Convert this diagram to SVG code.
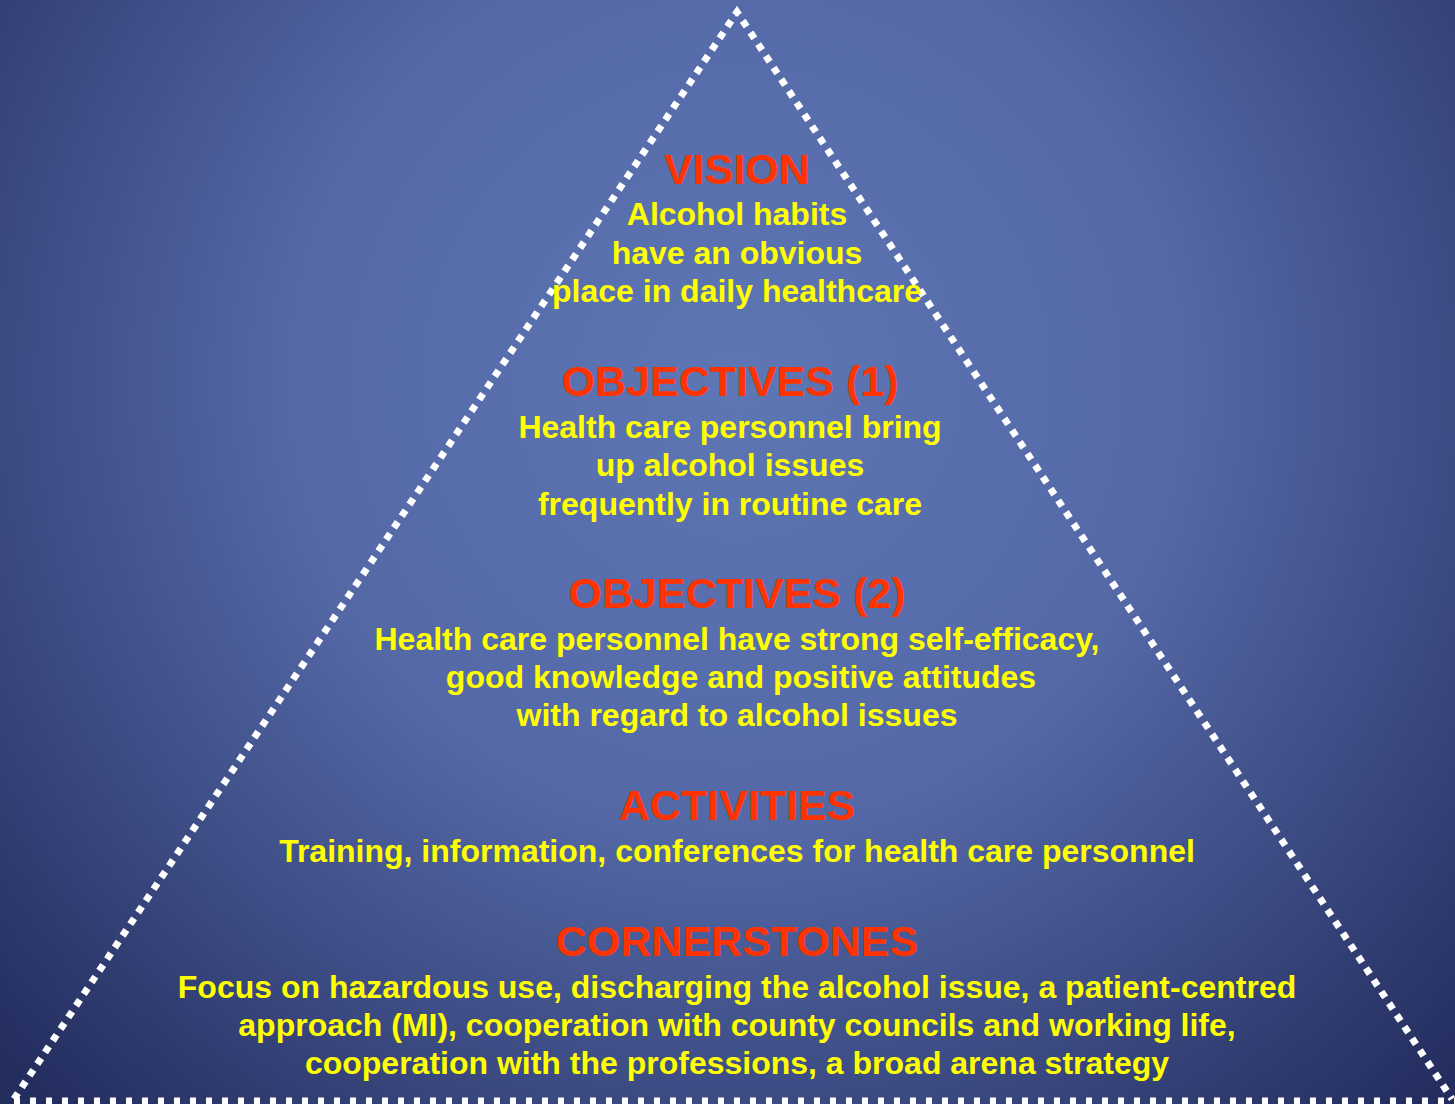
<svg xmlns="http://www.w3.org/2000/svg" width="1455" height="1104" viewBox="0 0 1455 1104">
<defs>
<radialGradient id="bg" cx="737" cy="380" r="1000" gradientUnits="userSpaceOnUse">
<stop offset="0" stop-color="#5e76b4"/>
<stop offset="0.45" stop-color="#5468a6"/>
<stop offset="1" stop-color="#232d5e"/>
</radialGradient>
<style>
.h{font-family:"Liberation Sans",Arial,sans-serif;font-weight:bold;font-size:43px;fill:#ff3300;text-anchor:middle}
.t{font-family:"Liberation Sans",Arial,sans-serif;font-weight:bold;font-size:32px;fill:#ffff00;text-anchor:middle}
.d{fill:none;stroke:#ffffff;stroke-width:7}
</style>
</defs>
<rect width="1455" height="1104" fill="url(#bg)"/>
<g id="connectors">
<path class="d" d="M14 1099 L737 12 L1452 1099" stroke-dasharray="7 7"/>
<line class="d" x1="14" y1="1101" x2="1455" y2="1101" stroke-dasharray="6 10"/>
</g>
<g id="vision">
<text class="h" x="737" y="184">VISION</text>
<text class="t" x="737" y="225">Alcohol habits</text>
<text class="t" x="737" y="264">have an obvious</text>
<text class="t" x="737" y="302">place in daily healthcare</text>
</g>
<g id="objectives1">
<text class="h" x="730" y="396">OBJECTIVES (1)</text>
<text class="t" x="730" y="438">Health care personnel bring</text>
<text class="t" x="730" y="476">up alcohol issues</text>
<text class="t" x="730" y="515">frequently in routine care</text>
</g>
<g id="objectives2">
<text class="h" x="737" y="608">OBJECTIVES (2)</text>
<text class="t" x="737" y="650">Health care personnel have strong self-efficacy,</text>
<text class="t" x="741" y="688">good knowledge and positive attitudes</text>
<text class="t" x="737" y="726">with regard to alcohol issues</text>
</g>
<g id="activities">
<text class="h" x="737" y="820">ACTIVITIES</text>
<text class="t" x="737" y="862">Training, information, conferences for health care personnel</text>
</g>
<g id="cornerstones">
<text class="h" x="737" y="956">CORNERSTONES</text>
<text class="t" x="737" y="998">Focus on hazardous use, discharging the alcohol issue, a patient-centred</text>
<text class="t" x="737" y="1036">approach (MI), cooperation with county councils and working life,</text>
<text class="t" x="737" y="1074">cooperation with the professions, a broad arena strategy</text>
</g>
</svg>
